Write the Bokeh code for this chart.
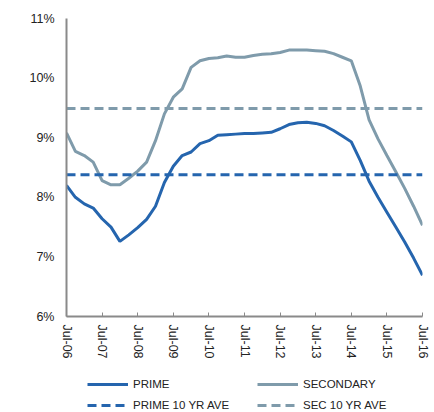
from bokeh.plotting import figure
from bokeh.models import Range1d, FixedTicker, Legend, LegendItem
from bokeh.layouts import column
from bokeh.embed import file_html
from bokeh.resources import INLINE

# quarterly observations, Jul-06 .. Jul-16 (quarter index from Jul-06)
quarters = list(range(41))
x_tick_pos = [0, 4, 8, 12, 16, 20, 24, 28, 32, 36, 40]
x_tick_labels = ["Jul-06", "Jul-07", "Jul-08", "Jul-09", "Jul-10", "Jul-11",
                 "Jul-12", "Jul-13", "Jul-14", "Jul-15", "Jul-16"]
y_ticks = [6, 7, 8, 9, 10, 11]
y_tick_labels = ["6%", "7%", "8%", "9%", "10%", "11%"]

prime = [8.20, 8.00, 7.89, 7.82, 7.64, 7.50, 7.26, 7.37, 7.49, 7.63,
         7.85, 8.25, 8.52, 8.70, 8.76, 8.90, 8.95, 9.04, 9.05, 9.06,
         9.07, 9.07, 9.08, 9.09, 9.15, 9.22, 9.25, 9.26, 9.24, 9.20,
         9.12, 9.03, 8.93, 8.62, 8.27, 8.00, 7.75, 7.50, 7.25, 6.98,
         6.69]
secondary = [9.08, 8.77, 8.70, 8.59, 8.28, 8.21, 8.21, 8.32, 8.44, 8.59,
             8.95, 9.40, 9.68, 9.82, 10.18, 10.29, 10.33, 10.34, 10.37, 10.35,
             10.35, 10.38, 10.40, 10.41, 10.43, 10.47, 10.47, 10.47, 10.46, 10.45,
             10.41, 10.35, 10.29, 9.87, 9.30, 8.98, 8.70, 8.43, 8.15, 7.85,
             7.53]
prime_avg = 8.38
sec_avg = 9.49
series_names = ["PRIME", "SECONDARY", "PRIME 10 YR AVE", "SEC 10 YR AVE"]

PRIME_C = "#2565ae"
SEC_C = "#7f9bab"
AXIS_C = "#8a8a8a"
TEXT_C = "#222222"
FONT = "Liberation Sans"
DASH = "9 5"

p = figure(width=434, height=368, output_backend="svg", toolbar_location=None,
           x_range=Range1d(0, 40), y_range=Range1d(6, 11),
           min_border_left=66, min_border_right=12, min_border_top=18,
           min_border_bottom=52)
p.outline_line_color = None
p.xgrid.visible = False
p.ygrid.visible = False
p.background_fill_color = "white"
p.border_fill_color = "white"

p.line(quarters, prime, line_color=PRIME_C, line_width=3)
p.line(quarters, secondary, line_color=SEC_C, line_width=3)
span_x = [quarters[0], quarters[-1]]
p.line(span_x, [prime_avg, prime_avg], line_color=PRIME_C, line_width=3, line_dash=DASH)
p.line(span_x, [sec_avg, sec_avg], line_color=SEC_C, line_width=3, line_dash=DASH)

xa = p.xaxis[0]
xa.ticker = FixedTicker(ticks=x_tick_pos)
xa.major_label_overrides = dict(zip(x_tick_pos, x_tick_labels))
xa.major_label_orientation = "vertical"
xa.axis_line_color = AXIS_C
xa.axis_line_width = 2
xa.major_tick_in = 4
xa.major_tick_out = 0
xa.major_tick_line_color = AXIS_C
xa.minor_tick_line_color = None
xa.major_label_text_font = FONT
xa.major_label_text_font_size = "12.5px"
xa.major_label_text_color = TEXT_C
xa.major_label_standoff = 8

ya = p.yaxis[0]
ya.ticker = FixedTicker(ticks=y_ticks)
ya.major_label_overrides = dict(zip(y_ticks, y_tick_labels))
ya.axis_line_color = AXIS_C
ya.axis_line_width = 2
ya.major_tick_in = 0
ya.major_tick_out = 0
ya.minor_tick_line_color = None
ya.major_label_text_font = FONT
ya.major_label_text_font_size = "12.5px"
ya.major_label_text_color = TEXT_C
ya.major_label_standoff = 12

# legend strip below the chart (its sample lines sit outside the visible range)
lg = figure(width=434, height=44, output_backend="svg", toolbar_location=None,
            x_range=Range1d(0, 1), y_range=Range1d(0, 1),
            x_axis_type=None, y_axis_type=None, min_border=0)
lg.outline_line_color = None
lg.xgrid.visible = False
lg.ygrid.visible = False
lg.background_fill_color = "white"
lg.border_fill_color = "white"
hx = [-3, -2]
hy = [-3, -2]
g1 = lg.line(hx, hy, line_color=PRIME_C, line_width=3)
g2 = lg.line(hx, hy, line_color=SEC_C, line_width=3)
g3 = lg.line(hx, hy, line_color=PRIME_C, line_width=3, line_dash=DASH)
g4 = lg.line(hx, hy, line_color=SEC_C, line_width=3, line_dash=DASH)

legend = Legend(items=[LegendItem(label=n, renderers=[r])
                       for n, r in zip(series_names, [g1, g2, g3, g4])],
                ncols=2, orientation="horizontal", location=(21, 0))
legend.border_line_color = None
legend.background_fill_alpha = 0
legend.label_text_font = FONT
legend.label_text_font_size = "11.5px"
legend.label_text_color = TEXT_C
legend.glyph_width = 41
legend.glyph_height = 14
legend.label_height = 14
legend.label_width = 117
legend.label_standoff = 5
legend.spacing = 7
legend.padding = 0
legend.margin = 0
lg.add_layout(legend, "center")

open("out.html", "w").write(file_html(column(p, lg, spacing=0), INLINE))
